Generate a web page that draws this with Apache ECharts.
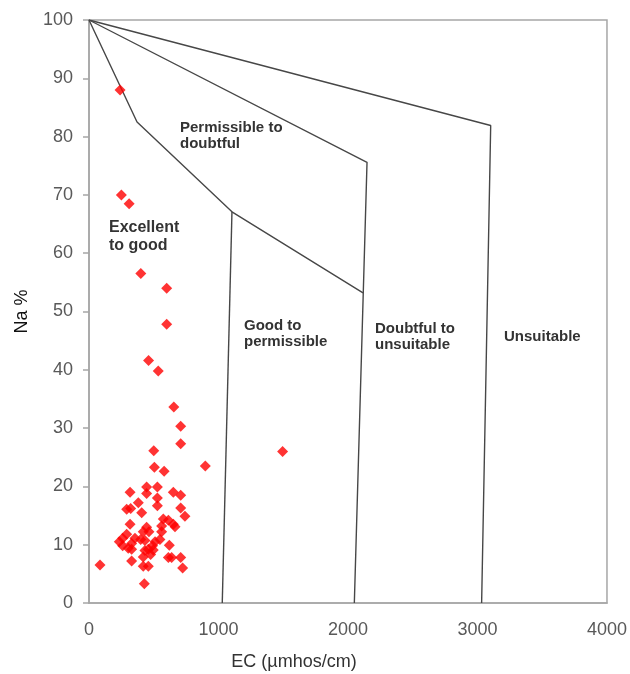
<!DOCTYPE html>
<html>
<head>
<meta charset="utf-8">
<script src="https://cdn.jsdelivr.net/npm/echarts@6/dist/echarts.min.js"></script>
<style>
html,body{margin:0;padding:0;background:#fff;}
#c{width:630px;height:674px;}
</style>
</head>
<body>
<div id="c"></div>
<script>
// Sample values: EC (µmhos/cm) and Na %
var ecValues = [240,250,310,400,600,600,460,535,655,708,708,500,1495,898,505,580,
  317,445,528,445,528,651,708,381,528,291,322,708,407,741,574,613,651,561,317,445,664,
  419,463,291,561,260,355,399,548,234,329,510,432,260,303,491,620,458,432,496,329,476,
  419,613,638,708,329,85,419,458,723,427];
var naValues = [88,70,68.5,56.5,54,47.8,41.6,39.8,33.6,30.3,27.3,26.1,26,23.5,23.3,22.6,
  19.0,19.9,19.9,18.8,18.0,19.0,18.5,17.2,16.7,16.1,16.2,16.3,15.5,14.9,14.4,14.2,13.5,13.2,13.5,13.0,13.1,
  12.2,12.2,11.8,12.2,11.1,11.1,10.9,10.9,10.5,10.2,10.5,10.7,9.8,9.4,9.8,9.9,9.2,9.0,9.1,9.2,8.3,
  7.9,7.8,7.8,7.8,7.2,6.5,6.3,6.3,6.0,3.3];

// Wilcox diagram class boundaries (EC, Na %)
var boundaryExcellent = [[0,100],[371,82.5],[1104,67.1],[2116,53.2]];
var boundaryGood = [[1104,67.1],[1029,0]];
var boundaryPermissible = [[0,100],[2147,75.6],[2049,0]];
var boundaryDoubtful = [[0,100],[3102,81.9],[3032,0]];

var xTicks = [0,1000,2000,3000,4000];
var yTicks = [0,10,20,30,40,50,60,70,80,90,100];

var regionLabels = ['Permissible to\ndoubtful','Excellent\nto good','Good to\npermissible','Doubtful to\nunsuitable','Unsuitable'];
var xTitle = 'EC (µmhos/cm)';
var yTitle = 'Na %';

var points = ecValues.map(function(v,i){return [v, naValues[i]];});

var lineStyle = {color:'#474747', width:1.4};
function boundary(d){
  return {type:'line', data:d, symbol:'none', silent:true, lineStyle:lineStyle, z:2, animation:false};
}

var chart = echarts.init(document.getElementById('c'), null, {renderer:'canvas'});
var ff = '"Liberation Sans", Arial, sans-serif';
function regionText(i, left, top, size, lh){
  return {type:'text', left:left, top:top, z:10,
    style:{text:regionLabels[i], fontFamily:ff, fontWeight:'bold', fontSize:size, lineHeight:lh, fill:'#333'}};
}

chart.setOption({
  animation:false,
  backgroundColor:'#fff',
  grid:{left:89, top:20, right:23, bottom:71, show:true, borderColor:'#a6a6a6', borderWidth:1.5, containLabel:false},
  xAxis:{
    type:'value', min:0, max:4000, interval:1000,
    axisLine:{show:true, lineStyle:{color:'#a6a6a6', width:1.5}},
    axisTick:{show:false},
    splitLine:{show:false},
    axisLabel:{color:'#595959', fontSize:18, fontFamily:ff, margin:18,
      formatter:function(v){return xTicks.indexOf(v)>=0 ? String(v) : '';}}
  },
  yAxis:{
    type:'value', min:0, max:100, interval:10,
    name:yTitle, nameLocation:'middle', nameGap:58, nameRotate:90,
    nameTextStyle:{color:'#111', fontSize:18, fontFamily:ff},
    axisLine:{show:true, lineStyle:{color:'#a6a6a6', width:1.5}},
    axisTick:{show:true, length:6, lineStyle:{color:'#a6a6a6', width:1.5}},
    splitLine:{show:false},
    axisLabel:{color:'#595959', fontSize:18, fontFamily:ff, margin:16,
      formatter:function(v){return yTicks.indexOf(v)>=0 ? String(v) : '';}}
  },
  series:[
    boundary(boundaryExcellent),
    boundary(boundaryGood),
    boundary(boundaryPermissible),
    boundary(boundaryDoubtful),
    {type:'scatter', data:points, symbol:'diamond', symbolSize:[11,11],
      itemStyle:{color:'#ff0000'}, z:5, animation:false}
  ],
  graphic:[
    regionText(0, 180, 120, 15, 16),
    regionText(1, 109, 219, 16, 18),
    regionText(2, 244, 318, 15, 16),
    regionText(3, 375, 321, 15, 16),
    regionText(4, 504, 329, 15, 16),
    {type:'text', x:294, y:662, style:{text:xTitle, fontFamily:ff, fontSize:18, fill:'#333', align:'center', verticalAlign:'middle'}}
  ]
});
</script>
</body>
</html>
